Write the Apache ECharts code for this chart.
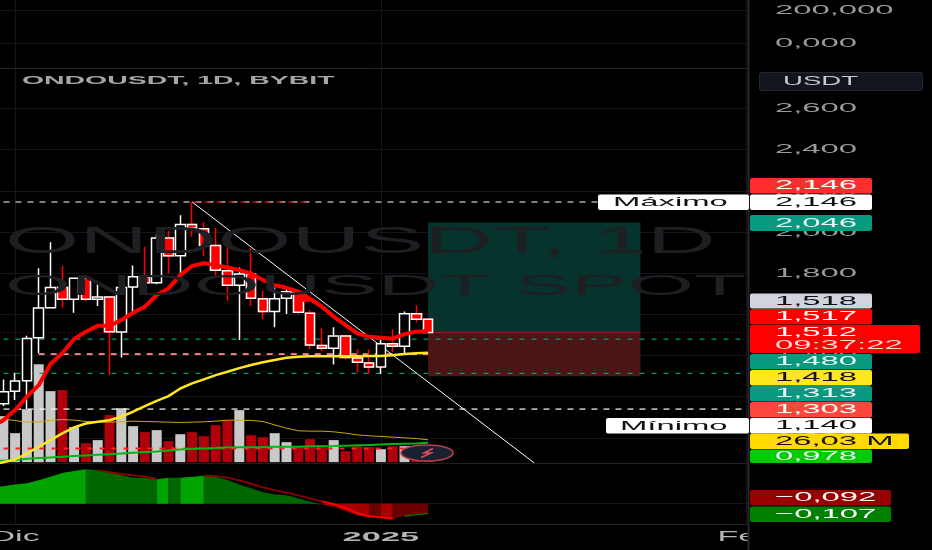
<!DOCTYPE html>
<html><head><meta charset="utf-8">
<style>html,body{margin:0;padding:0;background:#000;overflow:hidden}#c{width:932px;height:550px}</style>
<script src="https://cdn.jsdelivr.net/npm/echarts@6/dist/echarts.min.js"></script>
</head><body><div id="c"></div>
<script>
const symbolTitle = 'ONDOUSDT, 1D, BYBIT';
const watermarkA = 'ONDOUSDT, 1D';
const watermarkB = 'ONDOUSDT SPOT';
const monthLabels = ['Dic','2025','Feb'];
const monthIndex = [2,33,64];
const topTicks = [200,0];
const topTickText = ['200,000','0,000'];
const priceTicks = [2.6,2.4,2.2,2.0,1.8,1.6,1.4,1.2,1.0];
const openP  = [1.120,1.166,1.226,1.278,1.487,1.632,1.731,1.674,1.775,1.674,1.684,1.514,1.733,1.783,1.754,1.971,1.885,2.037,2.016,1.934,1.812,1.742,1.796,1.676,1.614,1.678,1.710,1.606,1.449,1.435,1.495,1.388,1.364,1.344,1.457,1.445,1.603,1.576];
const closeP = [1.166,1.224,1.276,1.483,1.631,1.731,1.674,1.775,1.674,1.684,1.516,1.731,1.783,1.754,1.971,1.885,2.037,2.018,1.935,1.814,1.742,1.796,1.678,1.614,1.676,1.710,1.610,1.451,1.435,1.495,1.390,1.367,1.344,1.457,1.445,1.603,1.576,1.512];
const lowP   = [1.100,1.155,1.184,1.140,1.411,1.632,1.632,1.608,1.662,1.641,1.305,1.391,1.613,1.730,1.746,1.799,1.775,1.977,1.883,1.788,1.666,1.475,1.642,1.576,1.537,1.602,1.600,1.431,1.422,1.357,1.381,1.316,1.310,1.310,1.417,1.411,1.560,1.508];
const highP  = [1.190,1.284,1.317,1.496,1.824,1.950,1.835,1.775,1.775,1.748,1.684,1.746,1.838,1.929,1.989,2.006,2.081,2.146,2.049,2.020,1.937,1.828,1.922,1.715,1.731,1.731,1.718,1.621,1.533,1.538,1.495,1.431,1.430,1.475,1.527,1.614,1.644,1.578];
const maRed = [1.050,1.086,1.135,1.200,1.256,1.359,1.411,1.480,1.516,1.545,1.545,1.572,1.608,1.637,1.694,1.726,1.791,1.835,1.849,1.838,1.828,1.815,1.799,1.767,1.742,1.729,1.710,1.676,1.637,1.589,1.548,1.508,1.491,1.487,1.482,1.504,1.516,1.519];
const maYellow = [0.868,0.882,0.895,0.924,0.957,0.989,1.022,1.051,1.070,1.078,1.086,1.103,1.127,1.154,1.180,1.203,1.240,1.265,1.284,1.305,1.321,1.339,1.354,1.367,1.378,1.389,1.394,1.396,1.397,1.397,1.397,1.397,1.398,1.398,1.402,1.407,1.411,1.414];
const maGreen = [0.887,0.889,0.892,0.899,0.902,0.905,0.908,0.912,0.915,0.918,0.921,0.924,0.928,0.931,0.934,0.939,0.944,0.947,0.949,0.951,0.954,0.954,0.955,0.955,0.957,0.957,0.957,0.959,0.959,0.960,0.962,0.964,0.965,0.968,0.970,0.972,0.973,0.976];
const volumeM = [50,54.3,34.2,62.5,115.6,83.8,85,41.3,22.4,26,55.5,63.7,42.5,35.4,37.8,24.8,33,35.4,30.7,43.7,49.6,61.4,31.9,29.5,34.2,23.6,17.7,27.1,20.1,26,13,18.9,17.7,15.3,18.9,18.9,9.4,4.7];
const volumeMA = [51.5,50.7,49.2,47.2,47.6,49.2,50.3,49.6,48.0,47.6,47.2,47.6,48.4,48.0,47.6,47.2,46.8,47.2,47.6,48.4,49.6,49.6,49.2,48.0,44.0,40.1,37.0,36.6,36.6,35.8,34.2,32.2,31.1,30.3,29.5,28.7,27.9,26.35];
const macdHist = [.172,.179,.199,.210,.241,.278,.316,.337,.354,.344,.333,.292,.268,.265,.251,.268,.268,.278,.289,.278,.244,.199,.158,.117,.096,.086,.055,.021,-.007,-.031,-.076,-.120,-.144,-.144,-.158,-.127,-.113,-.100];
const macdSignal = [null,null,null,null,null,null,null,null,null,.344,.326,.306,.292,.278,.258,null,null,null,.289,.285,.268,.241,.206,.168,.141,.113,.086,.055,.024,-.003,-.045,-.096,-.127,-.141,-.155,-.127,-.113,-.096];
const levelValues = {max:2.146, entry:1.512, bid:1.480, pink:1.407, target:2.046, stop:1.300, tp:1.313, min:1.140, volDash:0.949};
const trendline = [[17,2.146],[46,0.878]];
const tagText = ['2,146','2,146','2,046','1,518','1,517','1,480','1,418','1,313','1,303','1,140','26,03 M','0,978','\u22120,092','\u22120,107'];

const categories = [];
{ const m=['Ene','Feb','Mar','Abr','May','Jun','Jul','Ago','Sep','Oct','Nov','Dic'];
  for(let i=0;i<65;i++){const d=new Date(Date.UTC(2024,10,29+i));categories.push(d.getUTCDate()+' '+m[d.getUTCMonth()]+' '+d.getUTCFullYear());}}
const idx = openP.map((_,i)=>i);
const grid='#15161b', sep='#1f2026';
const X=(gi,line)=>({type:'category',data:categories,gridIndex:gi,boundaryGap:true,
  axisLine:{show:line,onZero:false,lineStyle:{color:sep,width:1}},axisTick:{show:false,alignWithLabel:true},axisLabel:{show:false},
  splitLine:{show:true,alignWithLabel:true,interval:(i)=>monthIndex.includes(i),lineStyle:{color:grid,width:1}}});
const Y=(gi,min,max,ticks,split)=>({type:'value',gridIndex:gi,min,max,position:'right',scale:true,
  axisLine:{show:false},axisLabel:{show:false,customValues:ticks},axisTick:{show:false,customValues:ticks},
  splitLine:{show:split,lineStyle:{color:grid,width:1}}});
const line=(name,data,color,width,z,extra)=>Object.assign({name,type:'line',xAxisIndex:1,yAxisIndex:1,data,showSymbol:false,symbol:'none',silent:true,z,
  lineStyle:{color,width}},extra||{});
const level=(name,a,b,v,color,dash,width,z)=>line(name,[[a,v],[b,v]],color,width,z||2,{lineStyle:{color,width,type:dash}});
const macdSeg=(a,b,color)=>({type:'line',xAxisIndex:2,yAxisIndex:3,silent:true,symbol:'none',z:2,
  lineStyle:{width:0,color},areaStyle:{color,opacity:1},
  data:idx.filter(i=>i>=a&&i<=b).map(i=>[i,macdHist[i]])});
const ohlc = idx.map(i=>[openP[i],closeP[i],lowP[i],highP[i]]);
const downBody = idx.map(i=>closeP[i]<openP[i]?[openP[i],closeP[i],closeP[i],openP[i]]:'-');

const chart = echarts.init(document.getElementById('c'),null,{renderer:'canvas'});
const series = [
  {type:'line',xAxisIndex:0,yAxisIndex:0,data:[],silent:true},
  {type:'bar',xAxisIndex:1,yAxisIndex:2,barWidth:10,z:1,silent:true,name:'Volumen',
   data:idx.map(i=>({value:volumeM[i],itemStyle:{color:closeP[i]>=openP[i]?'#c9c9c9':'#b0000c'}}))},
  line('Long box',[[37,levelValues.entry],[55,levelValues.entry]],'#7a2a2a',1,1,{markArea:{silent:true,itemStyle:{opacity:1},data:[
    [{coord:[37,levelValues.target],itemStyle:{color:'#07332d'}},{coord:[55,levelValues.entry]}],
    [{coord:[37,levelValues.entry],itemStyle:{color:'#4a1514'}},{coord:[55,levelValues.stop]}]]}}),
  level('Max',0,64,levelValues.max,'#ffffff',[6,6],1.2),
  level('MaxRed',17,27,levelValues.max,'#e01010',[6,6],1.2),
  level('Entry',0,64,levelValues.entry,'#8a0d0d',[1,3],1.2),
  level('Bid',0,64,levelValues.bid,'#089981',[5,7],1.2),
  level('Pink',4,37,levelValues.pink,'#ff8a8a',[6,6],1.8),
  level('TP',0,64,levelValues.tp,'#089981',[5,7],1.2),
  level('Min',0,64,levelValues.min,'#ffffff',[6,6],1.2),
  line('Trend',trendline,'#ffffff',1,3),
  {type:'candlestick',xAxisIndex:1,yAxisIndex:1,barWidth:10,z:3,silent:true,name:'ONDOUSDT',data:ohlc,
   itemStyle:{color:'#000',color0:'#ff0000',borderColor:'#fff',borderColor0:'#ff0000',borderWidth:1.5}},
  {type:'candlestick',xAxisIndex:1,yAxisIndex:1,barWidth:10,z:3,silent:true,name:'Cuerpos',data:downBody,
   itemStyle:{color:'#000',color0:'#ff0000',borderColor:'#fff',borderColor0:'#fff',borderWidth:1.5}},
  line('Vol MA',volumeMA,'#c9a815',1,4,{yAxisIndex:2}),
  level('VolDash',0,37,levelValues.volDash,'#ff2020',[5,7],2,4),
  line('MA green',maGreen,'#00b814',2,4),
  line('MA yellow',maYellow,'#ffe71e',2.5,5),
  line('MA red',maRed,'#ff0000',4,6),
  line('Blob',[[26,1.675],[27,1.672]],'#ff0000',5,6),
  macdSeg(0,8,'#00a300'),macdSeg(8,14,'#006600'),macdSeg(14,15,'#00a300'),macdSeg(15,16,'#006600'),
  macdSeg(16,18,'#00a300'),macdSeg(18,28,'#006600'),macdSeg(28,32,'#a80000'),macdSeg(32,33,'#6a0000'),
  macdSeg(33,34,'#a80000'),macdSeg(34,37,'#6a0000'),
  {type:'line',xAxisIndex:2,yAxisIndex:3,silent:true,symbol:'none',z:3,lineStyle:{color:'#8c0000',width:1.8},
   data:idx.map(i=>i<=28?macdSignal[i]:null)},
  {type:'line',xAxisIndex:2,yAxisIndex:3,silent:true,symbol:'none',z:3,lineStyle:{color:'#ff0000',width:1.8},
   data:idx.map(i=>i>=28&&i<=34?macdSignal[i]:null)},
  {type:'line',xAxisIndex:2,yAxisIndex:3,silent:true,symbol:'none',z:3,lineStyle:{color:'#0a7a0a',width:1.2},
   data:idx.map(i=>i>=35?macdHist[i]:null)}
];
const G=(top,height)=>({left:-14.4,width:767,top,height,outerBoundsMode:'none',containLabel:false});
chart.setOption({
  animation:false,backgroundColor:'#000',
  grid:[G(0,68),G(69,394),G(464,60)],
  xAxis:[X(0,true),X(1,true),X(2,true)],
  yAxis:[Y(0,-151.5,260.6,topTicks,true),Y(1,0.878,2.792,priceTicks,true),
         Y(1,-1,464,[0],false),Y(2,-0.209,0.409,[0],true)],
  series
});

// the reference's text is stretched wide, so labels are scaled horizontally
const FONT='"Liberation Sans"', SX=2.43;
const txt=(text,x,y,fill,o={})=>({type:'text',x,y,scaleX:o.sx||SX,z:o.z||30,silent:true,
  style:{text,fill,font:(o.w||'normal')+' '+(o.size||13.5)+'px '+FONT,textAlign:o.a||'left',textVerticalAlign:'middle'}});
const rect=(x,y,w,h,fill,z,r)=>({type:'rect',z:z||20,silent:true,shape:{x,y,width:w,height:h,r:r||0},style:{fill}});
const g=[];
g.push(txt(watermarkA,5,243,'#1d1f23',{size:37,sx:2.58,z:0}));
g.push(txt(watermarkB,5,287,'#1d1f23',{size:30,sx:2.83,z:0}));
g.push(rect(749,0,183,550,'#000',15));
g.push(rect(747.5,0,2,550,'#26272c',16));
const py=v=>chart.convertToPixel({yAxisIndex:1},v);
priceTicks.forEach(v=>g.push(txt(v.toFixed(3).replace('.',','),775,py(v),'#9b9b9b',{z:17})));
topTicks.forEach((v,i)=>g.push(txt(topTickText[i],775,chart.convertToPixel({yAxisIndex:0},v),'#9b9b9b',{z:17})));
monthLabels.forEach((t,i)=>g.push(txt(t,chart.convertToPixel({xAxisIndex:2},monthIndex[i]),537,'#b4b4b4',{a:'center',w:t==='2025'?'bold':'normal',size:t==='2025'?13.5:14,sx:t==='2025'?2.55:2.43,z:5})));
g.push(txt(symbolTitle,22,81,'#a6a6a6',{w:'bold',size:11.5,sx:2.47,z:5}));
g.push(rect(759,72,164,19,'#222630',20,3));
g.push(rect(760,73,162,17,'#12151e',20,3));
g.push(txt('USDT',783,81.5,'#c4c8d0',{z:21,sx:2.3,size:12}));
const tagLayout=[[178,15.5,122,'#ff2d2d','#fff'],[194.5,15.5,122,'#fff','#111'],[215,16,122,'#089981','#e8f5f0'],
 [293.5,15,122,'#d1d4dc','#111'],[309,15.5,122,'#ff0000','#fff'],[354,15.5,122,'#089981','#e8f5f0'],
 [370,15.5,122,'#ffe71e','#111'],[386,15.5,122,'#089981','#e8f5f0'],[402,15.5,122,'#ff463c','#fff'],
 [418,15.5,122,'#fff','#111'],[433.5,15.5,159,'#ffd900','#111'],[449.5,13.5,122,'#00cc00','#eaffea'],
 [490,15.5,141,'#990000','#fff'],[506.5,15.5,141,'#008000','#fff']];
tagText.forEach((t,i)=>{const[y,h,w,b,f]=tagLayout[i];
  g.push(rect(750,y,w,h,b,20,2));g.push(txt(t,775,y+h/2,f,{z:21}));});
g.push(rect(750,325,170,28,'#ff0000',20,2));
g.push(txt('1,512',775,332.5,'#fff',{z:21}));
g.push(txt('09:37:22',775,345.5,'#ffd8d8',{z:21}));
g.push(rect(598,194.5,151,15.5,'#fff',20,2));
g.push(txt('M\u00e1ximo',613,202.5,'#111',{z:21}));
g.push(rect(606,418,143,15.5,'#fff',20,2));
g.push(txt('M\u00ednimo',620,426,'#111',{z:21}));
g.push({type:'ellipse',z:12,silent:true,shape:{cx:427,cy:453,rx:26,ry:8},style:{fill:'#1b2130',stroke:'#b8404e',lineWidth:1.6}});
g.push({type:'polyline',z:13,silent:true,shape:{points:[[433,448.5],[424,453],[431,453],[421,457.5]]},style:{fill:'none',stroke:'#d8505e',lineWidth:1.5}});
chart.setOption({graphic:{elements:g}});
</script></body></html>
